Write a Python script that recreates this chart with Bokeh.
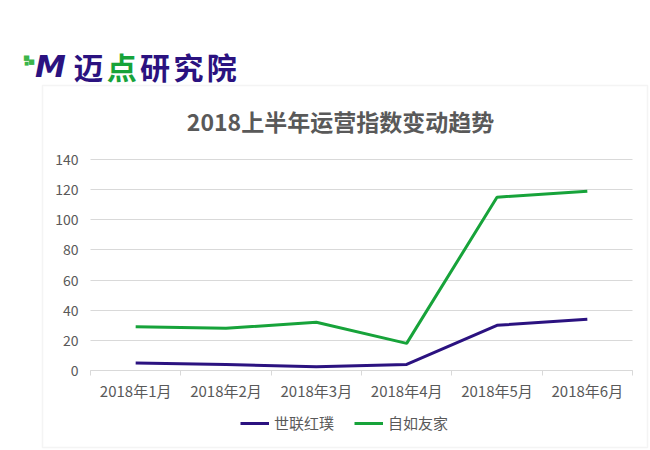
from bokeh.plotting import figure
from bokeh.models import Range1d, FixedTicker, Label, BoxAnnotation, Legend, LegendItem
from bokeh.embed import file_html
from bokeh.resources import INLINE

months = ["2018年1月", "2018年2月", "2018年3月", "2018年4月", "2018年5月", "2018年6月"]
shilian = [5, 4, 2.5, 4, 30, 34]
ziru = [29, 28, 32, 18, 115, 119]
series_names = ["世联红璞", "自如友家"]
y_ticks = [0, 20, 40, 60, 80, 100, 120, 140]
title_text = "2018上半年运营指数变动趋势"
logo_chars = ["迈", "点", "研", "究", "院"]

PURPLE = "#2b1280"
GREEN = "#17a33a"
GRAY = "#595959"
CJK = "Noto Sans CJK SC"

W, H = 650, 450
PAGE = 0
# where the value axes sit on the page (pixels)
AX_L, AX_R, AX_TOP, AX_BOT = 90, 632, 159, 370
Y0, Y1 = y_ticks[0], y_ticks[-1]
n = len(months)
ux = (AX_R - AX_L) / n              # px per category
uy = (AX_BOT - AX_TOP) / (Y1 - Y0)  # px per unit

def pdx(page_x):
    return (page_x - AX_L) / ux

def pdy(page_y):
    return Y0 + (AX_BOT - page_y) / uy

x_range = Range1d(pdx(PAGE), pdx(PAGE + W))
y_range = Range1d(pdy(PAGE + H), pdy(PAGE))

p = figure(width=W, height=H, x_range=x_range, y_range=y_range,
           output_backend="svg", toolbar_location=None,
           min_border=0)
p.outline_line_color = None
p.background_fill_color = "white"
p.border_fill_color = "white"

centers = [i + 0.5 for i in range(n)]
r1 = p.line(centers, shilian, line_color=PURPLE, line_width=3)
r2 = p.line(centers, ziru, line_color=GREEN, line_width=3)

# axes drawn at fixed data locations inside the frame
p.yaxis.fixed_location = 0
p.yaxis.ticker = FixedTicker(ticks=y_ticks)
p.yaxis.bounds = (Y0, Y1)
p.yaxis.axis_line_color = None
p.yaxis.major_tick_line_color = None
p.yaxis.major_tick_out = 0
p.yaxis.minor_tick_line_color = None
p.yaxis.major_label_text_color = GRAY
p.yaxis.major_label_text_font = CJK
p.yaxis.major_label_text_font_size = "14px"
p.yaxis.major_label_standoff = 12

p.xaxis.fixed_location = Y0
p.xaxis.ticker = FixedTicker(ticks=centers, minor_ticks=list(range(n + 1)))
p.xaxis.major_label_overrides = {c: m for c, m in zip(centers, months)}
p.xaxis.bounds = (0, n)
p.xaxis.axis_line_color = "#d9d9d9"
p.xaxis.major_tick_line_color = None
p.xaxis.major_tick_out = 0
p.xaxis.major_tick_in = 0
p.xaxis.minor_tick_line_color = "#d9d9d9"
p.xaxis.minor_tick_out = 5
p.xaxis.minor_tick_in = 0
p.xaxis.major_label_text_color = GRAY
p.xaxis.major_label_text_font = CJK
p.xaxis.major_label_text_font_size = "15px"
p.xaxis.major_label_standoff = 4

p.xgrid.grid_line_color = None
p.ygrid.grid_line_color = "#d9d9d9"
p.ygrid.grid_line_width = 1
p.ygrid.cross_bounds = (0, n)

# chart box
p.add_layout(BoxAnnotation(left=pdx(42), right=pdx(647), top=pdy(85), bottom=pdy(447),
                           fill_color=None, line_color="#d9d9d9", line_width=1.5,
                           level="underlay"))

# title
p.add_layout(Label(x=pdx(340), y=pdy(120), text=title_text, text_align="center",
                   text_baseline="middle", text_font=CJK, text_font_size="23px",
                   text_font_style="bold", text_color=GRAY))

# logo
for gx, gy, s in [(26, 57, "7px"), (31, 61, "7px"), (26, 62, "5px")]:
    p.add_layout(Label(x=pdx(gx), y=pdy(gy), text="■", text_align="center",
                       text_baseline="middle", text_font="DejaVu Sans", text_font_size=s,
                       text_color="#3cb54a"))
p.add_layout(Label(x=pdx(50), y=pdy(65), text="M", text_align="center", text_baseline="middle",
                   text_font="DejaVu Sans", text_font_size="31px",
                   text_font_style="bold italic", text_color=PURPLE))
for i, ch in enumerate(logo_chars):
    p.add_layout(Label(x=pdx(88 + i * 33.3), y=pdy(65), text=ch, text_align="center",
                       text_baseline="middle", text_font=CJK, text_font_size="30px",
                       text_font_style="bold", text_color=GREEN if ch == "点" else PURPLE))

legend = Legend(items=[LegendItem(label=series_names[0], renderers=[r1]),
                       LegendItem(label=series_names[1], renderers=[r2])],
                orientation="horizontal", location=(240, 17))
legend.border_line_color = None
legend.background_fill_alpha = 0
legend.label_text_font = CJK
legend.label_text_font_size = "15px"
legend.label_text_color = GRAY
legend.glyph_width = 29
legend.glyph_height = 16
legend.label_standoff = 5
legend.spacing = 20
legend.padding = 4
legend.margin = 0
p.add_layout(legend, "center")

open("out.html", "w").write(file_html(p, INLINE))
